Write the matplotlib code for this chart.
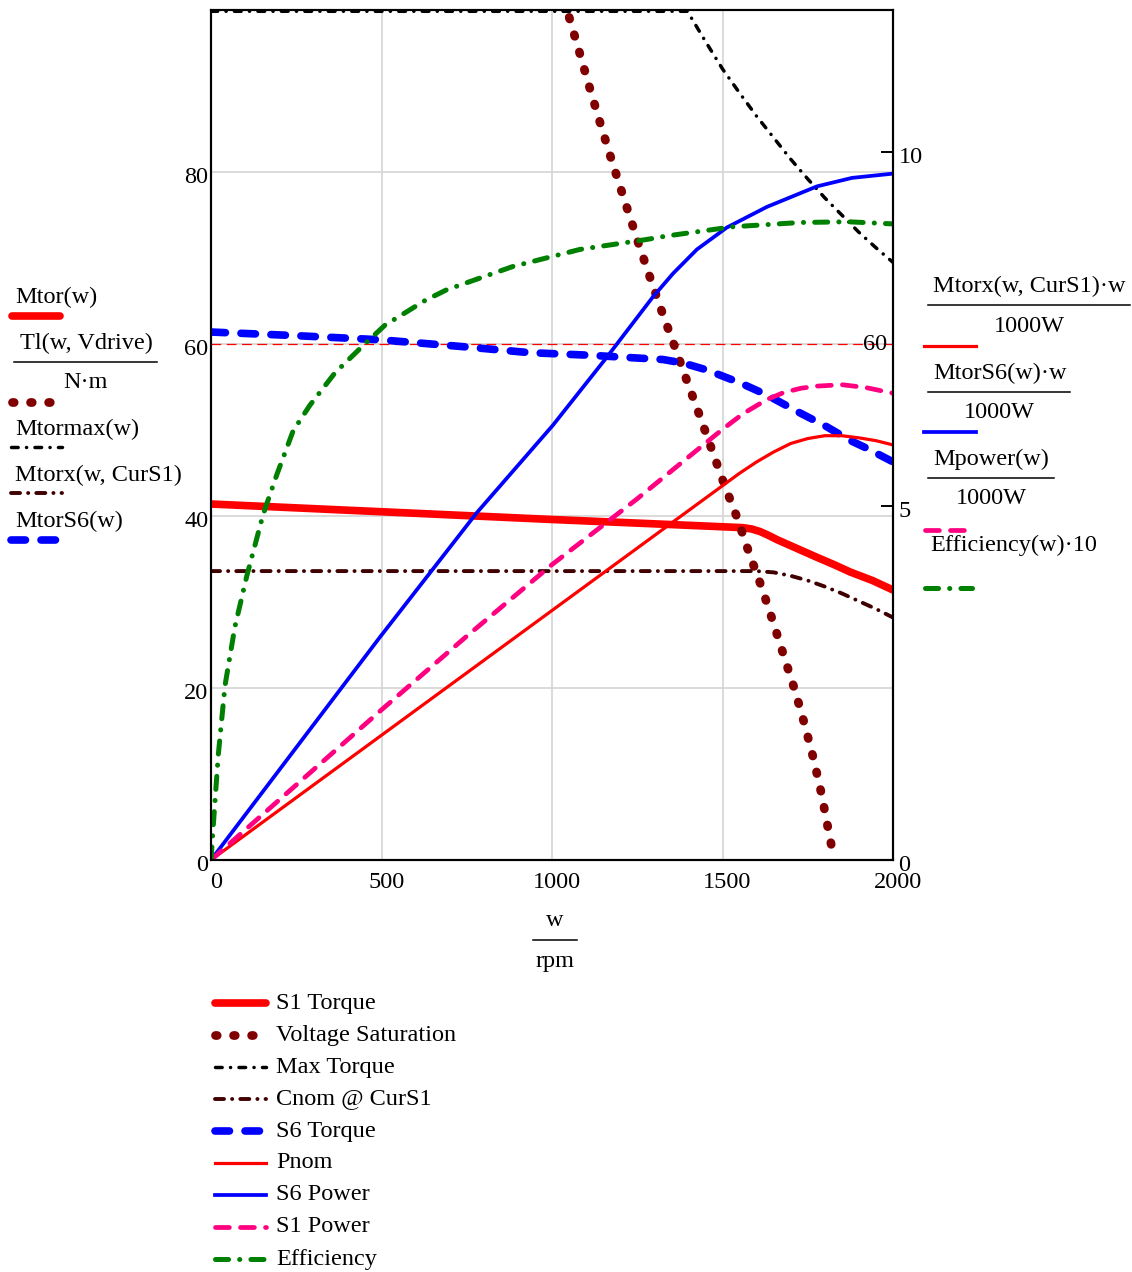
import numpy as np
import matplotlib
matplotlib.use("Agg")
import matplotlib.pyplot as plt
import matplotlib.transforms as mtransforms

plt.rcParams['font.family'] = ['Liberation Serif', 'DejaVu Serif']
plt.rcParams['font.size'] = 17.5
plt.rcParams['lines.scale_dashes'] = False

# ---- data (w in rpm) ----
# left axis, N*m
w_mtor = [0, 500, 1000, 1355, 1560, 1585, 1610, 1635, 1660, 1720, 1777, 1830, 1874, 1940, 2000]
mtor = [41.4, 40.5, 39.6, 39.0, 38.65, 38.5, 38.2, 37.75, 37.25, 36.2, 35.2, 34.3, 33.5, 32.5, 31.4]

w_tl = [1035, 1050, 1080, 1109, 1139, 1170, 1203, 1252, 1287, 1322, 1358, 1395, 1431,
        1468, 1505, 1543, 1578, 1615, 1649, 1681, 1713, 1742, 1768, 1791, 1810, 1820, 1826]
tl = [100.0, 98.05, 94.0, 90.0, 86.0, 82.0, 77.9, 71.9, 67.8, 63.8, 59.9, 55.8, 51.9,
      47.8, 43.7, 39.8, 35.7, 31.7, 27.6, 23.6, 19.65, 15.6, 11.6, 7.56, 3.57, 1.55, 0]

w_mmax = [0, 1397, 1450, 1500, 1550, 1600, 1650, 1700, 1750, 1800, 1850, 1900, 1950, 2000]
mmax = [98.7, 98.7, 95.2, 92.0, 89.2, 86.5, 84.0, 81.5, 79.2, 77.0, 75.0, 73.0, 71.2, 69.5]

w_cnom = [0, 1600, 1650, 1700, 1750, 1800, 1850, 1900, 1950, 2000]
cnom = [33.6, 33.6, 33.45, 33.05, 32.5, 31.8, 31.0, 30.1, 29.2, 28.2]

w_s6 = [0, 238, 496, 739, 935, 1111, 1326, 1384, 1453, 1551, 1629, 1727, 1805, 1874, 1922, 2000]
s6 = [61.4, 61.0, 60.5, 59.7, 59.0, 58.7, 58.2, 57.8, 57.0, 55.5, 54.1, 52.0, 50.4, 48.8, 47.9, 46.3]

# right axis, kW and efficiency*10
w_pnom = [0, 1550, 1600, 1650, 1700, 1750, 1800, 1850, 1900, 1950, 2000]
pnom = [0, 5.46, 5.62, 5.76, 5.88, 5.95, 5.99, 5.99, 5.96, 5.92, 5.86]

w_p6 = [0, 496, 779, 1003, 1161, 1296, 1355, 1425, 1513, 1630, 1777, 1880, 2000]
p6 = [0, 3.15, 4.90, 6.14, 7.10, 7.95, 8.28, 8.62, 8.93, 9.22, 9.51, 9.63, 9.69]

w_p1 = [0, 250, 500, 750, 1000, 1250, 1500, 1560, 1630, 1680, 1730, 1777, 1850, 1920, 2000]
p1 = [0, 1.06, 2.12, 3.16, 4.17, 5.10, 6.08, 6.30, 6.50, 6.60, 6.66, 6.69, 6.71, 6.67, 6.59]

w_eff = [0, 7, 21.5, 41, 70, 105, 153, 193, 241, 290, 364, 452, 510, 628, 691, 886,
         1082, 1277, 1337, 1531, 1727, 1870, 2000]
eff = [0, 0.51, 1.49, 2.46, 3.29, 4.01, 4.88, 5.44, 6.06, 6.42, 6.88, 7.29, 7.55, 7.90, 8.05, 8.38,
       8.62, 8.76, 8.81, 8.94, 9.00, 9.01, 8.98]

marker_val = 60
legend_names = ["S1 Torque", "Voltage Saturation", "Max Torque", "Cnom @ CurS1", "S6 Torque",
                "Pnom", "S6 Power", "S1 Power", "Efficiency"]

# ---- styles ----
st = {
    "mtor": dict(color="#ff0000", lw=5.5, solid_capstyle="round", solid_joinstyle="round"),
    "tl": dict(color="#800000", lw=6.3, dashes=(1.2, 11.8), dash_capstyle="round"),
    "mmax": dict(color="black", lw=2.5, dashes=(4.8, 6, 0.1, 6), dash_capstyle="round"),
    "cnom": dict(color="#400000", lw=2.8, dashes=(6.5, 5.8, 0.1, 5.8), dash_capstyle="round"),
    "s6": dict(color="#0000ff", lw=5.5, dashes=(10.4, 11.2), dash_capstyle="round"),
    "pnom": dict(color="#ff0000", lw=2.3),
    "p6": dict(color="#0000ff", lw=2.7),
    "p1": dict(color="#ff0080", lw=3.4, dashes=(10, 8), dash_capstyle="round"),
    "eff": dict(color="#008000", lw=3.6, dashes=(9.4, 8, 0.1, 8), dash_capstyle="round"),
}

W, H = 1132, 1272
fig = plt.figure(figsize=(W / 100, H / 100), dpi=100)
L, R, T, B = 211, 893, 10, 860
ax = fig.add_axes([L / W, 1 - B / H, (R - L) / W, (B - T) / H])
ax2 = ax.twinx()

ax.plot(w_mtor, mtor, **st["mtor"])
ax.plot(w_tl, tl, **st["tl"])
ax.plot(w_mmax, mmax, **st["mmax"])
ax.plot(w_cnom, cnom, **st["cnom"])
ax.plot(w_s6, s6, **st["s6"])
ax.axhline(marker_val, color="#ff0000", lw=0.9, dashes=(7, 4), zorder=1)
ax.text(0.992, marker_val, str(marker_val), transform=ax.get_yaxis_transform(),
        ha="right", va="center")

ax2.plot(w_pnom, pnom, **st["pnom"])
ax2.plot(w_p6, p6, **st["p6"])
ax2.plot(w_p1, p1, **st["p1"])
ax2.plot(w_eff, eff, **st["eff"])

ax.set_xlim(0, 2000)
ax.set_ylim(0, 98.85)
ax2.set_ylim(0, 12.0)
ax.set_xticks([0, 500, 1000, 1500, 2000])
ax.set_yticks([0, 20, 40, 60, 80])
ax2.set_yticks([0, 5, 10])
ax.grid(True, color="#d4d4d4", lw=1.2)
ax.set_axisbelow(True)
ax.tick_params(axis="x", length=0, pad=9)
ax.tick_params(axis="y", length=0, pad=2)
ax2.tick_params(axis="y", direction="in", length=9, width=1.4, pad=4)
for a in (ax, ax2):
    for s in a.spines.values():
        s.set_linewidth(1.5)
off = mtransforms.ScaledTranslation(5 / 100, 0, fig.dpi_scale_trans)
for lab in ax.get_xticklabels():
    lab.set_transform(lab.get_transform() + off)
offy = mtransforms.ScaledTranslation(0, -3 / 100, fig.dpi_scale_trans)
for lab in ax.get_yticklabels() + ax2.get_yticklabels():
    lab.set_transform(lab.get_transform() + offy)

# ---- overlay for Mathcad style labels and legend (pixel coords) ----
ov = fig.add_axes([0, 0, 1, 1], zorder=-1)
ov.set_xlim(0, W)
ov.set_ylim(H, 0)
ov.axis("off")


def frac(x0, x1, y, top, bottom, xtop=None):
    if xtop is None:
        ov.text((x0 + x1) / 2, y - 19, top, ha="center", va="center")
    else:
        ov.text(xtop, y - 19, top, ha="left", va="center")
    ov.plot([x0, x1], [y, y], color="black", lw=1.1)
    ov.text((x0 + x1) / 2, y + 21, bottom, ha="center", va="center")


def sample(x0, x1, y, key):
    ov.plot([x0, x1], [y, y], clip_on=False, **st[key])


# left axis labels
ov.text(15, 297, "Mtor(w)", va="center")
sample(12, 60, 316, "mtor")
frac(14, 157, 362, "Tl(w, Vdrive)", "N\u00b7m", xtop=20)
sample(12, 50, 402, "tl")
ov.text(15, 429, "Mtormax(w)", va="center")
sample(11, 62, 447, "mmax")
ov.text(15, 475, "Mtorx(w, CurS1)", va="center")
sample(11, 62, 493, "cnom")
ov.text(15, 521, "MtorS6(w)", va="center")
sample(11, 58, 540, "s6")

# right axis labels
frac(928, 1130, 305, "Mtorx(w, CurS1)\u00b7w", "1000W", xtop=933)
sample(924, 976, 346, "pnom")
frac(928, 1070, 392, "MtorS6(w)\u00b7w", "1000W", xtop=933)
sample(924, 976, 432, "p6")
frac(928, 1054, 478, "Mpower(w)", "1000W", xtop=933)
sample(925, 975, 530, "p1")
ov.text(930, 545, "Efficiency(w)\u00b710", va="center")
sample(925, 972, 588, "eff")

# x label fraction
frac(533, 577, 940, "w", "rpm")

# bottom legend
keys = ["mtor", "tl", "mmax", "cnom", "s6", "pnom", "p6", "p1", "eff"]
for i, (k, name) in enumerate(zip(keys, legend_names)):
    y = 1003 + 32 * i
    sample(215, 266, y, k)
    ov.text(276, y, name, va="center")

fig.savefig("out.png", dpi=100)
